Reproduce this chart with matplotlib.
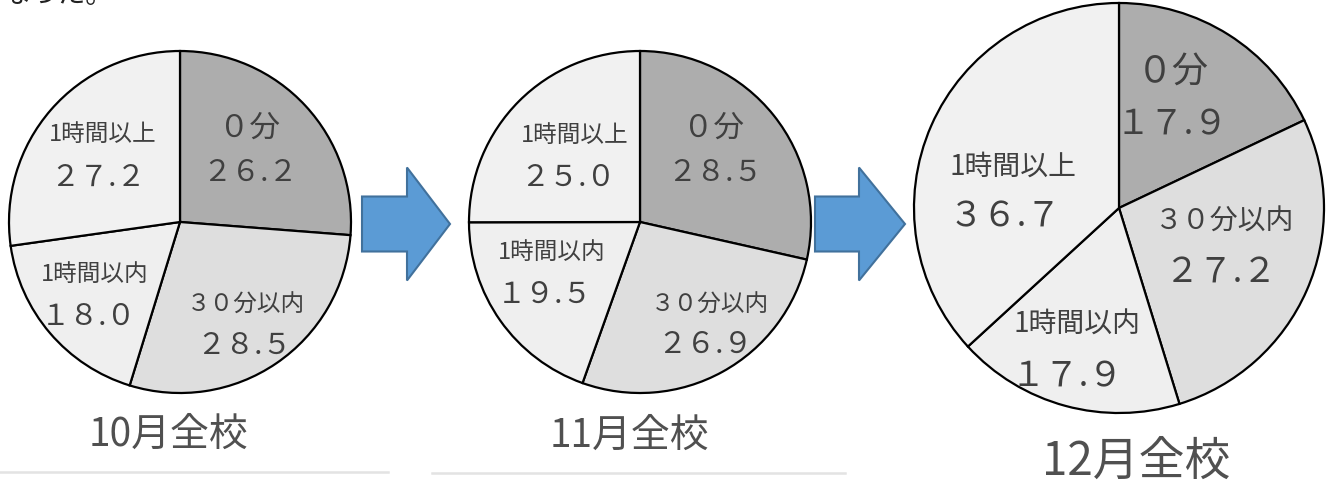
import matplotlib
matplotlib.use("Agg")
import matplotlib.pyplot as plt
from matplotlib.patches import FancyArrow

plt.rcParams['font.family'] = ['Noto Sans CJK JP', 'DejaVu Sans']

# ---- data ----
categories = ["０分", "３０分以内", "1時間以内", "1時間以上"]
titles = ["10月全校", "11月全校", "12月全校"]
oct_values = [26.2, 28.5, 18.0, 27.2]
nov_values = [28.5, 26.9, 19.5, 25.0]
dec_values = [17.9, 27.2, 17.9, 36.7]
slice_colors = ["#adadad", "#dedede", "#efefef", "#f1f1f1"]

W, H = 1333, 488
fig = plt.figure(figsize=(W / 100, H / 100), dpi=100)
ax = fig.add_axes([0, 0, 1, 1])

FW = str.maketrans("0123456789", "０１２３４５６７８９")


def fw(v):
    return f"{v:.1f}".translate(FW)


TXT = "#404040"

# pie geometry (pixel coords, y from top)
pies = [
    dict(vals=oct_values, c=(180, 222), r=171, s=1.0,
         lab=[(250, 128), (246, 305), (95, 274), (103, 134)],
         num=[(250, 173), (244, 346), (89, 317), (98, 178)],
         title=(168, 435, 28)),
    dict(vals=nov_values, c=(640, 222), r=171, s=1.0,
         lab=[(713, 128), (710, 305), (552, 252), (575, 135)],
         num=[(715, 173), (705, 345), (545, 295), (568, 178)],
         title=(629, 436, 28)),
    dict(vals=dec_values, c=(1119, 208), r=205, s=1.18,
         lab=[(1173, 72), (1225, 222), (1077, 325), (1013, 167)],
         num=[(1172, 125), (1220, 273), (1067, 377), (1005, 217)],
         title=(1136, 462, 33)),
]

for p in pies:
    cx, cy = p["c"]
    ax.pie(p["vals"], colors=slice_colors, startangle=90, counterclock=False,
           center=(cx, H - cy), radius=p["r"], frame=True,
           wedgeprops=dict(edgecolor="black", linewidth=1.6))
    s = p["s"]
    for i, cat in enumerate(categories):
        lx, ly = p["lab"][i]
        fs = (22 if i == 0 else 17) * s
        ax.text(lx, H - ly, cat, ha="center", va="center", fontsize=fs, color=TXT)
        nx, ny = p["num"][i]
        ax.text(nx, H - ny, fw(p["vals"][i]), ha="center", va="center",
                fontsize=21 * s, color=TXT)

for p, t in zip(pies, titles):
    tx, ty, tfs = p["title"]
    ax.text(tx, H - ty, t, ha="center", va="center", fontsize=tfs, color="#505050")

# arrows
for x0, x1, hx in [(362, 450, 407), (815, 905, 859)]:
    ax.add_patch(FancyArrow(x0, H - 224, x1 - x0, 0, width=55, head_width=113,
                            head_length=x1 - hx, length_includes_head=True,
                            facecolor="#5b9bd5", edgecolor="#41719c", linewidth=1.5))

# separator lines
ax.plot([0, 388], [H - 472, H - 472], color="#e3e3e3", linewidth=1.8)
ax.plot([432, 845], [H - 473, H - 473], color="#e3e3e3", linewidth=1.8)

# cut-off text from previous line
ax.text(2, H - 10, "なった。", ha="left", va="bottom", fontsize=20, color="#222222")

ax.set_xlim(0, W)
ax.set_ylim(0, H)
ax.set_aspect("equal")
ax.axis("off")
fig.savefig("out.png", dpi=100)
